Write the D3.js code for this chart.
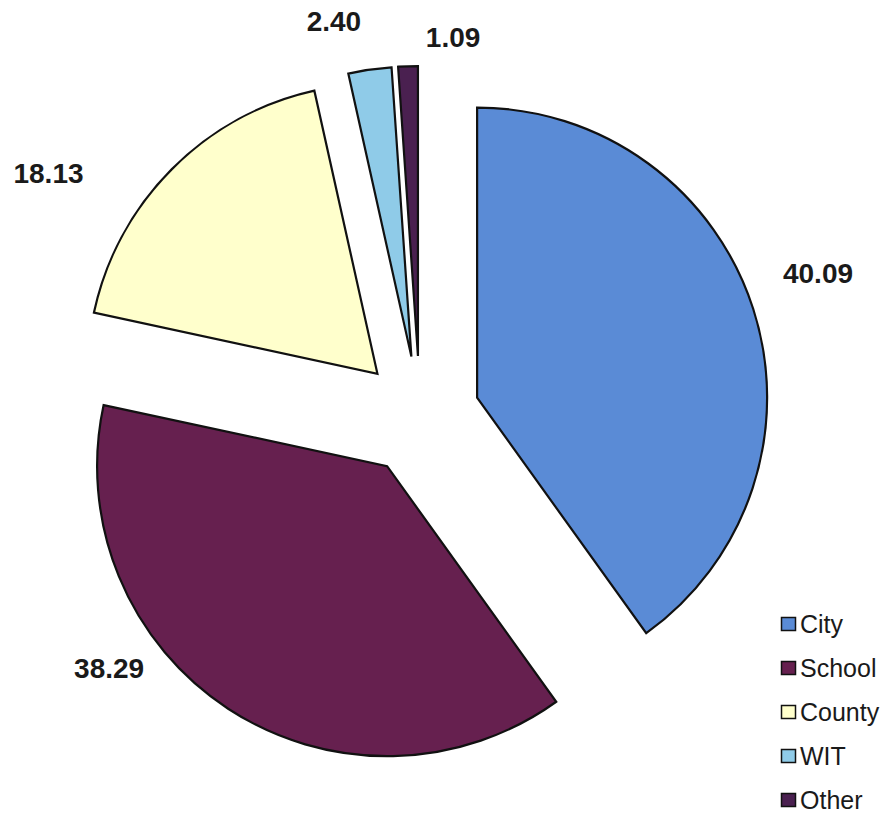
<!DOCTYPE html>
<html>
<head>
<meta charset="utf-8">
<script src="https://cdn.jsdelivr.net/npm/d3@7"></script>
<style>
  html, body { margin: 0; padding: 0; background: #ffffff; }
  svg { display: block; }
</style>
</head>
<body>
<svg id="chart" width="890" height="818"></svg>
<script>
// Share of funding by source (percent)
const categories = ["City", "School", "County", "WIT", "Other"];
const shares = [40.09, 38.29, 18.13, 2.40, 1.09];
const valueLabels = ["40.09", "38.29", "18.13", "2.40", "1.09"];
const colors = ["#5a8bd6", "#66204f", "#ffffcc", "#8fcbe8", "#4a2050"];

const svg = d3.select("#chart");
const cx = 420, cy = 416;
const radius = 290;
const explode = 60;

const data = categories.map((c, i) => ({ name: c, value: shares[i], label: valueLabels[i], color: colors[i] }));

const pie = d3.pie().sort(null).value(d => d.value).startAngle(0).endAngle(2 * Math.PI);
const arc = d3.arc().innerRadius(0).outerRadius(radius);
const arcs = pie(data);

const g = svg.append("g").attr("transform", `translate(${cx},${cy})`);

// exploded wedges, each pushed out along its mid-angle
g.selectAll("path.slice")
  .data(arcs)
  .join("path")
  .attr("class", "slice")
  .attr("d", arc)
  .attr("transform", d => {
    const a = (d.startAngle + d.endAngle) / 2;
    return `translate(${explode * Math.sin(a)},${-explode * Math.cos(a)})`;
  })
  .attr("fill", d => d.data.color)
  .attr("stroke", "#111")
  .attr("stroke-width", 2.2)
  .attr("stroke-linejoin", "miter");

// value labels placed around the pie (angle in degrees from 12 o'clock, distance from centre)
const labelPlacement = [
  [70.2, 423],
  [231.0, 400],
  [303.2, 444],
  [347.7, 404],
  [5.0, 380]
];

g.selectAll("text.value")
  .data(arcs)
  .join("text")
  .attr("class", "value")
  .attr("x", (d, i) => labelPlacement[i][1] * Math.sin(labelPlacement[i][0] * Math.PI / 180))
  .attr("y", (d, i) => -labelPlacement[i][1] * Math.cos(labelPlacement[i][0] * Math.PI / 180) + 10)
  .attr("text-anchor", "middle")
  .attr("font-family", "'Liberation Sans', Arial, sans-serif")
  .attr("font-weight", "bold")
  .attr("font-size", 28)
  .attr("fill", "#1a1a1a")
  .text(d => d.data.label);

// legend
const legend = svg.append("g").attr("transform", "translate(781,624)");
const rowStep = 44;
const item = legend.selectAll("g.item")
  .data(data)
  .join("g")
  .attr("class", "item")
  .attr("transform", (d, i) => `translate(0,${i * rowStep})`);

item.append("rect")
  .attr("x", 0.5)
  .attr("y", -6.5)
  .attr("width", 14)
  .attr("height", 13)
  .attr("fill", d => d.color)
  .attr("stroke", "#111")
  .attr("stroke-width", 1.5);

item.append("text")
  .attr("x", 19)
  .attr("y", 9)
  .attr("font-family", "'Liberation Sans', Arial, sans-serif")
  .attr("font-size", 25)
  .attr("fill", "#1a1a1a")
  .text(d => d.name);
</script>
</body>
</html>
